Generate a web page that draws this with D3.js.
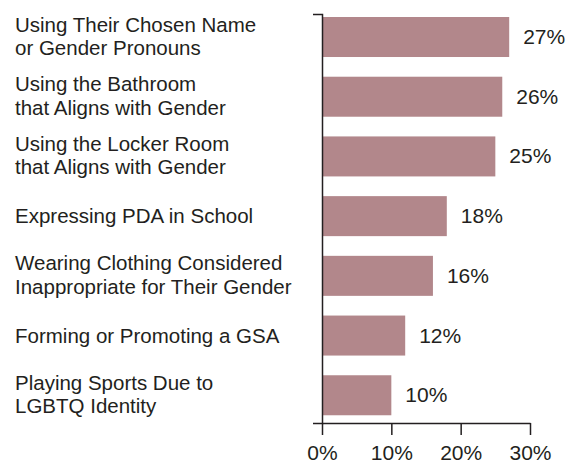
<!DOCTYPE html>
<html>
<head>
<meta charset="utf-8">
<script src="https://cdn.jsdelivr.net/npm/d3@7"></script>
<style>
  body { margin: 0; background: #fff; }
  svg text { font-family: "Liberation Sans", Arial, sans-serif; fill: #231f20; }
</style>
</head>
<body>
<div id="chart"></div>
<script>
// data
const labels = [
  ["Using Their Chosen Name", "or Gender Pronouns"],
  ["Using the Bathroom", "that Aligns with Gender"],
  ["Using the Locker Room", "that Aligns with Gender"],
  ["Expressing PDA in School"],
  ["Wearing Clothing Considered", "Inappropriate for Their Gender"],
  ["Forming or Promoting a GSA"],
  ["Playing Sports Due to", "LGBTQ Identity"]
];
const values = [27, 26, 25, 18, 16, 12, 10];
const xTicks = [0, 10, 20, 30];

const W = 575, H = 464;
const svg = d3.select("#chart").append("svg").attr("width", W).attr("height", H);

const keys = labels.map((d, i) => i);
const x = d3.scaleLinear().domain([0, 30]).range([322, 530]);
const y = d3.scaleBand().domain(keys).range([14, 423])
  .paddingInner(0.33).paddingOuter(0.09).align(0.28);

// bars
svg.append("g")
  .selectAll("rect")
  .data(values)
  .enter()
  .append("rect")
  .attr("x", x(0))
  .attr("y", (d, i) => y(i))
  .attr("width", d => x(d) - x(0))
  .attr("height", y.bandwidth())
  .style("fill", "#b2878b");

// value labels
svg.append("g")
  .selectAll("text")
  .data(values)
  .enter()
  .append("text")
  .attr("x", d => x(d) + 14)
  .attr("y", (d, i) => y(i) + y.bandwidth() / 2 + 7)
  .style("font-size", "21px")
  .text(d => d + "%");

// category labels
labels.forEach((lines, i) => {
  const c = y(i) + y.bandwidth() / 2;
  const t = svg.append("text").attr("x", 15).style("font-size", "20.5px");
  if (lines.length == 1) {
    t.attr("y", c + 7).text(lines[0]);
  } else {
    lines.forEach((l, j) => {
      t.append("tspan").attr("x", 15).attr("y", c - 5.5 + j * 23.5).text(l);
    });
  }
});

// y axis (just the line + outer ticks)
const yAxis = svg.append("g")
  .attr("transform", "translate(" + x(0) + ",0)")
  .call(d3.axisLeft(y).tickValues([]).tickSizeOuter(9));

// x axis
const xAxis = svg.append("g")
  .attr("transform", "translate(0,423)")
  .call(d3.axisBottom(x).tickValues(xTicks).tickSize(12).tickSizeOuter(0).tickPadding(10)
    .tickFormat(d => d + "%"));
xAxis.selectAll("text").style("font-size", "21px").attr("fill", "#231f20");

svg.selectAll(".domain, .tick line").attr("stroke", "#231f20").attr("stroke-width", 1.5);
</script>
</body>
</html>
